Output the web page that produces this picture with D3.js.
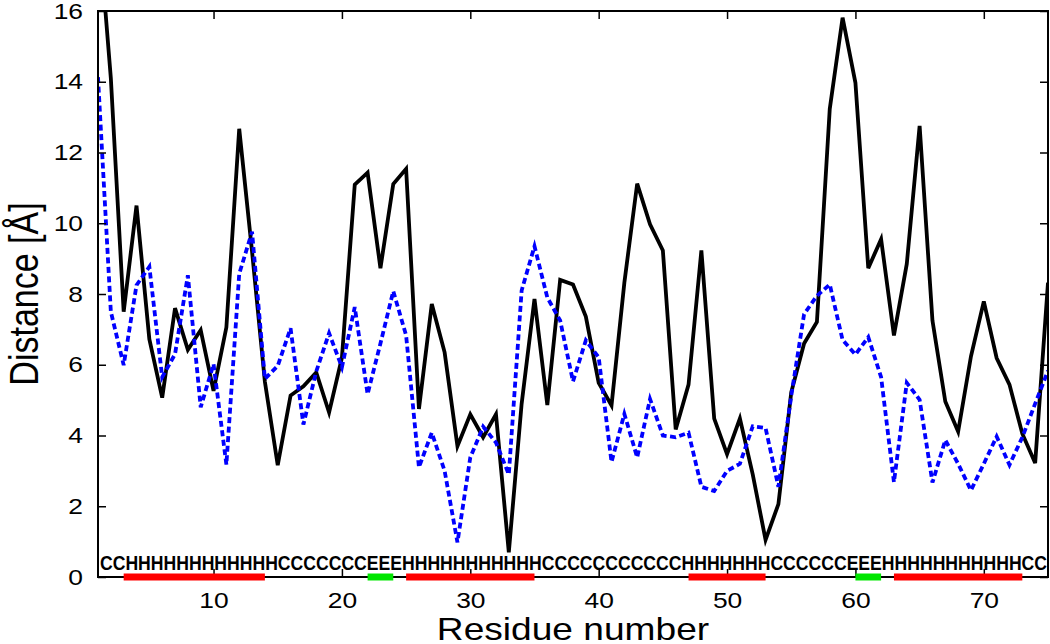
<!DOCTYPE html>
<meta charset="utf-8">
<style>
  body { margin: 0; background: #fff; }
  text { font-family: "Liberation Sans", Arial, sans-serif; }
</style>
<!-- Load d3.js -->
<script src="https://d3js.org/d3.v7.min.js"></script>

<div id="chart"></div>

<script>

// residue numbers 1..75
const residues = d3.range(1, 76);

// solid black curve (distance, Angstrom)
const distBlack = [18.6, 14.1, 7.5, 10.5, 6.72, 5.07, 7.6, 6.42, 6.98, 5.26,
  7.06, 12.67, 9.2, 5.52, 3.16, 5.13, 5.39, 5.78, 4.65, 6.2,
  11.09, 11.43, 8.73, 11.11, 11.54, 4.75, 7.72, 6.35, 3.7, 4.6,
  3.95, 4.6, 0.7, 4.9, 7.86, 4.86, 8.4, 8.27, 7.36, 5.49,
  4.85, 8.32, 11.12, 9.97, 9.23, 4.17, 5.44, 9.23, 4.48, 3.47,
  4.48, 2.9, 1.05, 2.06, 5.22, 6.6, 7.21, 13.23, 15.81, 13.97,
  8.73, 9.55, 6.83, 8.85, 12.75, 7.25, 4.96, 4.11, 6.24, 7.79,
  6.19, 5.44, 4.05, 3.22, 8.32];

// dashed blue curve
const distBlue = [14.13, 7.5, 5.99, 8.25, 8.77, 5.65, 6.3, 8.53, 4.8, 6.02,
  3.18, 8.57, 9.76, 5.6, 5.97, 7.03, 4.31, 5.81, 6.89, 5.93,
  7.63, 5.17, 6.6, 8.08, 6.83, 3.1, 4.08, 3.0, 0.98, 3.38,
  4.25, 3.8, 2.9, 8.1, 9.35, 7.9, 7.25, 5.53, 6.69, 6.21,
  3.25, 4.61, 3.38, 5.03, 4.0, 3.95, 4.08, 2.55, 2.43, 3.0,
  3.2, 4.26, 4.21, 2.55, 5.12, 7.43, 7.95, 8.27, 6.7, 6.29,
  6.78, 5.65, 2.68, 5.49, 5.01, 2.67, 3.87, 3.2, 2.45, 3.2,
  3.97, 3.17, 3.95, 4.9, 5.83];

// secondary structure, one letter per residue
const ssString = ["CC", "HHHHHHHHHHHH", "CCCCCCC", "EEE", "HHHHHHHHHHH",
  "CCCCCCCCCCC", "HHHHHHH", "CCCCCC", "EEE", "HHHHHHHHHHH", "CC"].join("");

const xTicks = [10, 20, 30, 40, 50, 60, 70];
const yTicks = [0, 2, 4, 6, 8, 10, 12, 14, 16];

// set the dimensions and margins of the graph
const margin = {top: 11, right: 2, bottom: 67, left: 98},
      width = 1050 - margin.left - margin.right,
      height = 644 - margin.top - margin.bottom;

const svg = d3.select("#chart")
  .append("svg")
  .attr("width", width + margin.left + margin.right)
  .attr("height", height + margin.top + margin.bottom)
  .append("g")
  .attr("transform", `translate(${margin.left}, ${margin.top})`);

const x = d3.scaleLinear().domain([1, 75]).range([0, width]);
const y = d3.scaleLinear().domain([0, 16]).range([height, 0]);

svg.append("clipPath").attr("id", "plotclip")
  .append("rect").attr("width", width).attr("height", height);

const line = d3.line()
  .x((d, i) => x(residues[i]))
  .y(d => y(d));

svg.append("path")
  .datum(distBlack)
  .attr("clip-path", "url(#plotclip)")
  .attr("fill", "none")
  .attr("stroke", "#000")
  .attr("stroke-width", 3.8)
  .attr("d", line);

svg.append("path")
  .datum(distBlue)
  .attr("clip-path", "url(#plotclip)")
  .attr("fill", "none")
  .attr("stroke", "#0000ff")
  .attr("stroke-width", 3.8)
  .attr("stroke-dasharray", "6,3.5")
  .attr("d", line);

// axes, ticks point inward on all four sides
const sx = 1.2; // labels in the picture are a bit wide

const left = svg.append("g")
  .call(d3.axisLeft(y).tickValues(yTicks).tickSize(-8).tickPadding(15));
left.selectAll("text")
  .attr("x", -15 / sx)
  .attr("transform", `scale(${sx},1)`);

const bottom = svg.append("g")
  .attr("transform", `translate(0, ${height})`)
  .call(d3.axisBottom(x).tickValues(xTicks).tickSize(-8).tickPadding(15));
bottom.selectAll("text").attr("transform", `scale(${sx},1)`);

svg.append("g")
  .call(d3.axisTop(x).tickValues(xTicks).tickSize(-8).tickFormat(""));
svg.append("g")
  .attr("transform", `translate(${width}, 0)`)
  .call(d3.axisRight(y).tickValues(yTicks).tickSize(-8).tickFormat(""));

svg.selectAll(".domain").remove();
svg.selectAll(".tick line").attr("stroke", "#000").attr("stroke-width", 1.5);
svg.selectAll(".tick text")
  .attr("fill", "#000")
  .style("font-size", "22px")
  .style("font-family", '"Liberation Sans", Arial, sans-serif');

svg.append("rect")
  .attr("width", width)
  .attr("height", height)
  .attr("fill", "none")
  .attr("stroke", "#000")
  .attr("stroke-width", 2);

// bars for helix / strand runs
const runs = [];
for (let i = 0; i < ssString.length; i++) {
  const c = ssString[i];
  if (c === "C") continue;
  if (runs.length && runs[runs.length - 1].type === c && runs[runs.length - 1].end === i) {
    runs[runs.length - 1].end = i + 1;
  } else {
    runs.push({type: c, start: i + 1, end: i + 1});
  }
}
const ssColor = {H: "#ff0000", E: "#00e600"};

svg.append("g")
  .selectAll("line")
  .data(runs)
  .join("line")
    .attr("x1", d => x(d.start))
    .attr("x2", d => x(d.end))
    .attr("y1", height)
    .attr("y2", height)
    .attr("stroke", d => ssColor[d.type])
    .attr("stroke-width", 7);

svg.append("text")
  .attr("x", x(1) + 2)
  .attr("y", height - 7)
  .attr("textLength", x(75) - x(1) - 3)
  .attr("lengthAdjust", "spacingAndGlyphs")
  .style("font-size", "20px")
  .style("font-weight", "bold")
  .text(ssString);

// axis titles
svg.append("text")
  .attr("text-anchor", "middle")
  .attr("transform", `translate(${width / 2}, ${height + 63}) scale(1.16,1)`)
  .style("font-size", "32px")
  .text("Residue number");

svg.append("text")
  .attr("text-anchor", "middle")
  .attr("transform", `translate(${38 - margin.left}, ${height / 2}) scale(1.2,1) rotate(-90)`)
  .style("font-size", "34px")
  .text("Distance [Å]");

</script>
